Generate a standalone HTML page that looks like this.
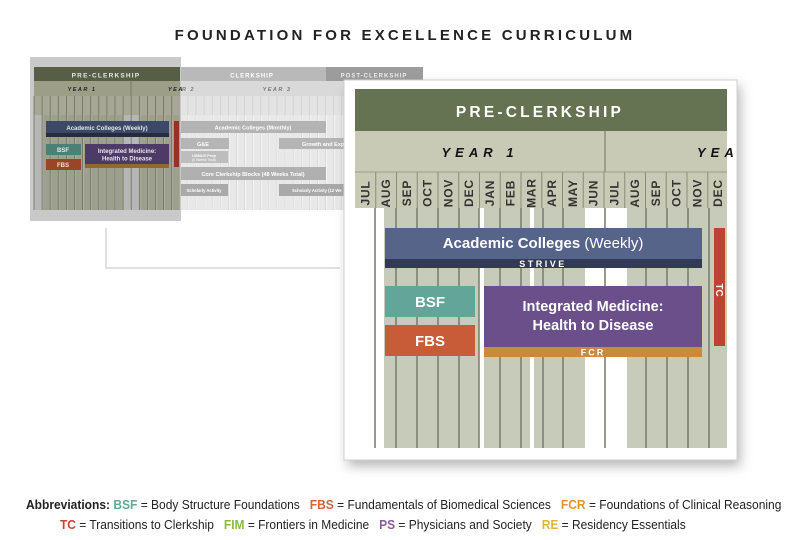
<!DOCTYPE html>
<html><head><meta charset="utf-8">
<style>
html,body{margin:0;padding:0;background:#fff;}
#w{position:relative;width:810px;height:540px;overflow:hidden;font-family:"Liberation Sans",sans-serif;}
.t{position:absolute;left:0;width:810px;text-align:center;top:27px;font-weight:bold;font-size:15px;letter-spacing:3.2px;color:#222;}
.lg{position:absolute;font-family:"Liberation Sans",sans-serif;font-size:12.5px;color:#222;white-space:nowrap;transform-origin:0 0;}
.lg b{font-weight:bold;}
</style></head><body><div id="w">
<div class="t">FOUNDATION FOR EXCELLENCE CURRICULUM</div>
<svg width="810" height="540" style="position:absolute;left:0;top:0">
<defs>
<filter id="sh" x="-10%" y="-10%" width="130%" height="130%"><feGaussianBlur stdDeviation="6"/></filter>
</defs>
<path d="M106 228 V268 H340" fill="none" stroke="#d6d6d6" stroke-width="1.5"/>
<g id="thumb">
<rect x="180" y="67" width="146" height="14" fill="#b9b9b9"/>
<rect x="326" y="67" width="97" height="14" fill="#9c9c9c"/>
<text x="252" y="77.5" font-size="6" font-weight="bold" fill="#fff" text-anchor="middle" letter-spacing="1">CLERKSHIP</text>
<text x="374" y="77.5" font-size="6" font-weight="bold" fill="#eee" text-anchor="middle" letter-spacing="1">POST-CLERKSHIP</text>
<rect x="180" y="81" width="243" height="15" fill="#d9d9d9"/>
<rect x="180" y="96" width="243" height="19" fill="#e3e3e3"/>
<rect x="180" y="115" width="243" height="95" fill="#fff"/>
<g id="tcols"></g>
<text x="277" y="91" font-size="5.5" font-style="italic" font-weight="bold" fill="#777" text-anchor="middle" letter-spacing="1.5">YEAR 3</text>
<text x="182" y="91" font-size="5.5" font-style="italic" font-weight="bold" fill="#777" letter-spacing="1.5">R 2</text>
<rect x="180" y="121" width="146" height="12" fill="#b3b3b3"/>
<text x="253" y="129.5" font-size="5.5" font-weight="bold" fill="#fff" text-anchor="middle">Academic Colleges (Monthly)</text>
<rect x="180" y="138" width="49" height="11" fill="#b5b5b5"/>
<text x="197" y="146" font-size="5.5" font-weight="bold" fill="#fff">G&amp;E</text>
<rect x="180" y="151" width="48" height="12" fill="#bdbdbd"/>
<text x="204" y="157" font-size="4" font-weight="bold" fill="#fff" text-anchor="middle">USMLE Prep</text>
<text x="204" y="161" font-size="3.5" fill="#fff" text-anchor="middle">(6 Weeks Total)</text>
<rect x="279" y="138" width="70" height="11" fill="#b5b5b5"/>
<text x="302" y="146" font-size="5.5" font-weight="bold" fill="#fff">Growth and Exp</text>
<rect x="180" y="167" width="146" height="13" fill="#b0b0b0"/>
<text x="253" y="176" font-size="5.5" font-weight="bold" fill="#fff" text-anchor="middle">Core Clerkship Blocks (48 Weeks Total)</text>
<rect x="180" y="184" width="48" height="12" fill="#a9a9a9"/>
<text x="204" y="192" font-size="4.2" font-weight="bold" fill="#fff" text-anchor="middle">Scholarly Activity</text>
<rect x="279" y="184" width="70" height="12" fill="#a9a9a9"/>
<text x="292" y="192" font-size="4.2" font-weight="bold" fill="#fff">Scholarly Activity (12 We</text>
</g>
<rect x="30" y="57" width="151" height="164" fill="#c9c9c9"/>
<rect x="34" y="67" width="146" height="14" fill="#565f45"/>
<text x="106" y="77.5" font-size="6.5" font-weight="bold" fill="#e8e8e8" text-anchor="middle" letter-spacing="1.2">PRE-CLERKSHIP</text>
<rect x="34" y="81" width="146" height="15" fill="#9c9e88"/>
<line x1="131" y1="81" x2="131" y2="96" stroke="#6f7260" stroke-width="0.8"/>
<text x="82" y="91" font-size="5.5" font-style="italic" font-weight="bold" fill="#222" text-anchor="middle" letter-spacing="1.5">YEAR 1</text>
<text x="168" y="91" font-size="5.5" font-style="italic" font-weight="bold" fill="#222" letter-spacing="1.5">YEA</text>
<rect x="34" y="96" width="146" height="19" fill="#a6a895"/>
<rect x="34" y="115" width="146" height="95" fill="#b6b6b6"/>
<g id="bcols"></g>
<rect x="46" y="121" width="123" height="12" fill="#3b4867"/>
<text x="107" y="130" font-size="6" font-weight="bold" fill="#e6e6e6" text-anchor="middle">Academic Colleges (Weekly)</text>
<rect x="46" y="133" width="123" height="4" fill="#262b3d"/>
<rect x="174" y="121" width="5" height="46" fill="#8e3525"/>
<rect x="46" y="144" width="35" height="11" fill="#4a8075"/>
<text x="63" y="152" font-size="6" font-weight="bold" fill="#e6e6e6" text-anchor="middle">BSF</text>
<rect x="46" y="159" width="35" height="11" fill="#9a4428"/>
<text x="63" y="167" font-size="6" font-weight="bold" fill="#e6e6e6" text-anchor="middle">FBS</text>
<rect x="85" y="144" width="84" height="20" fill="#4d3a66"/>
<text x="127" y="153" font-size="6" font-weight="bold" fill="#e6e6e6" text-anchor="middle">Integrated Medicine:</text>
<text x="127" y="160.5" font-size="6" font-weight="bold" fill="#e6e6e6" text-anchor="middle">Health to Disease</text>
<rect x="85" y="164" width="84" height="4" fill="#93672f"/>
<rect x="348" y="86" width="392" height="380" fill="#777" opacity="0.55" filter="url(#sh)"/>
<rect x="344" y="80" width="393" height="380" fill="#fff" stroke="#d0d0d0" stroke-width="1"/>
<rect x="355" y="89" width="372" height="42" fill="#667353"/>
<text x="540" y="117" font-size="15.5" font-weight="bold" fill="#fff" text-anchor="middle" letter-spacing="3.2">PRE-CLERKSHIP</text>
<rect x="355" y="131" width="372" height="41" fill="#c8cab5"/>
<line x1="605" y1="131" x2="605" y2="208" stroke="#7d8070" stroke-width="1.2"/>
<text x="480" y="157" font-size="13" font-style="italic" font-weight="bold" fill="#111" text-anchor="middle" letter-spacing="5">YEAR 1</text>
<text x="697" y="157" font-size="13" font-style="italic" font-weight="bold" fill="#111" letter-spacing="5">YEA</text>
<rect x="355" y="172" width="372" height="36" fill="#c8cab5"/>
<line x1="355" y1="172" x2="727" y2="172" stroke="#9a9d8a" stroke-width="1"/>
<g id="mlab" font-size="12" font-weight="bold" fill="#333" text-anchor="middle" letter-spacing="0.8">
<text transform="translate(369.5,193) rotate(-90)">JUL</text>
<text transform="translate(390.2,193) rotate(-90)">AUG</text>
<text transform="translate(411,193) rotate(-90)">SEP</text>
<text transform="translate(431.7,193) rotate(-90)">OCT</text>
<text transform="translate(452.5,193) rotate(-90)">NOV</text>
<text transform="translate(473.2,193) rotate(-90)">DEC</text>
<text transform="translate(494,193) rotate(-90)">JAN</text>
<text transform="translate(514.7,193) rotate(-90)">FEB</text>
<text transform="translate(535.5,193) rotate(-90)">MAR</text>
<text transform="translate(556.2,193) rotate(-90)">APR</text>
<text transform="translate(577,193) rotate(-90)">MAY</text>
<text transform="translate(597.7,193) rotate(-90)">JUN</text>
<text transform="translate(618.5,193) rotate(-90)">JUL</text>
<text transform="translate(639.2,193) rotate(-90)">AUG</text>
<text transform="translate(660,193) rotate(-90)">SEP</text>
<text transform="translate(680.7,193) rotate(-90)">OCT</text>
<text transform="translate(701.5,193) rotate(-90)">NOV</text>
<text transform="translate(722.2,193) rotate(-90)">DEC</text>
</g>
<g id="mlines" stroke="#8a8d7c" stroke-width="1"></g>
<rect x="355" y="208" width="372" height="240" fill="#fff"/>
<rect x="384" y="208" width="95" height="240" fill="#c7cbb9"/>
<rect x="484" y="208" width="46" height="240" fill="#c7cbb9"/>
<rect x="534" y="208" width="51" height="240" fill="#c7cbb9"/>
<rect x="627" y="208" width="100" height="240" fill="#c7cbb9"/>
<g id="blines" stroke="#7d8070" stroke-width="1.6"></g>
<rect x="385" y="228" width="317" height="31" fill="#566489"/>
<text x="543" y="248" font-size="15" fill="#fff" text-anchor="middle"><tspan font-weight="bold">Academic Colleges</tspan> (Weekly)</text>
<rect x="385" y="259" width="317" height="9" fill="#333a55"/>
<text x="543" y="267" font-size="9" font-weight="bold" fill="#fff" text-anchor="middle" letter-spacing="2.5">STRIVE</text>
<rect x="714" y="228" width="11" height="118" fill="#bb4530"/>
<text transform="translate(716,290) rotate(90)" font-size="10" font-weight="bold" fill="#fff" text-anchor="middle">TC</text>
<rect x="385" y="286" width="90" height="31" fill="#63a699"/>
<text x="430" y="307" font-size="15" font-weight="bold" fill="#fff" text-anchor="middle">BSF</text>
<rect x="385" y="325" width="90" height="31" fill="#c85b38"/>
<text x="430" y="346" font-size="15" font-weight="bold" fill="#fff" text-anchor="middle">FBS</text>
<rect x="484" y="286" width="218" height="61" fill="#6a4f8b"/>
<text x="593" y="311" font-size="14.5" font-weight="bold" fill="#fff" text-anchor="middle">Integrated Medicine:</text>
<text x="593" y="330" font-size="14.5" font-weight="bold" fill="#fff" text-anchor="middle">Health to Disease</text>
<rect x="484" y="347" width="218" height="10" fill="#c98a3e"/>
<text x="593" y="355.5" font-size="9" font-weight="bold" fill="#fff" text-anchor="middle" letter-spacing="2">FCR</text>
</svg>
<div class="lg" style="left:26px;top:498px;transform:scaleX(0.96)"><b>Abbreviations:</b> <b style="color:#63a699">BSF</b> = Body Structure Foundations &nbsp; <b style="color:#d0663a">FBS</b> = Fundamentals of Biomedical Sciences &nbsp; <b style="color:#e3962f">FCR</b> = Foundations of Clinical Reasoning</div>
<div class="lg" style="left:60px;top:518px;transform:scaleX(0.957)"><b style="color:#c9452d">TC</b> = Transitions to Clerkship &nbsp; <b style="color:#8dba3e">FIM</b> = Frontiers in Medicine &nbsp; <b style="color:#8c5aa0">PS</b> = Physicians and Society &nbsp; <b style="color:#e2b43a">RE</b> = Residency Essentials</div>
</div>
<script>
var NS="http://www.w3.org/2000/svg";
function L(g,x1,y1,x2,y2,c,w){var l=document.createElementNS(NS,"line");l.setAttribute("x1",x1);l.setAttribute("y1",y1);l.setAttribute("x2",x2);l.setAttribute("y2",y2);l.setAttribute("stroke",c);l.setAttribute("stroke-width",w);g.appendChild(l);}
function R(g,x,y,w,h,c){var r=document.createElementNS(NS,"rect");r.setAttribute("x",x);r.setAttribute("y",y);r.setAttribute("width",w);r.setAttribute("height",h);r.setAttribute("fill",c);g.appendChild(r);}
var ml=document.getElementById("mlines");
for(var i=1;i<18;i++){var x=355+20.75*i;L(ml,x,172,x,208,"#8a8d7c",1);}
var bl=document.getElementById("blines");
[375,396,417,438,459,479,500,521,543,563,605,646,667,688,709].forEach(function(x){L(bl,x,208,x,448,"#7d8070",1.6);});
var tc=document.getElementById("tcols");
for(var i=18;i<48;i++){var x=34+8.1*i;R(tc,x+1,115,6.5,95,"#e8e8e8");L(tc,x,96,x,210,"#cfcfcf",0.8);}
var bc=document.getElementById("bcols");
for(var i=0;i<18;i++){var x=34+8.1*i;if(i!=0&&i!=11&&i!=12)R(bc,x+1,115,7,95,"#9ea08e");L(bc,x,96,x,210,"#6f7260",0.8);}
</script>
</body></html>
